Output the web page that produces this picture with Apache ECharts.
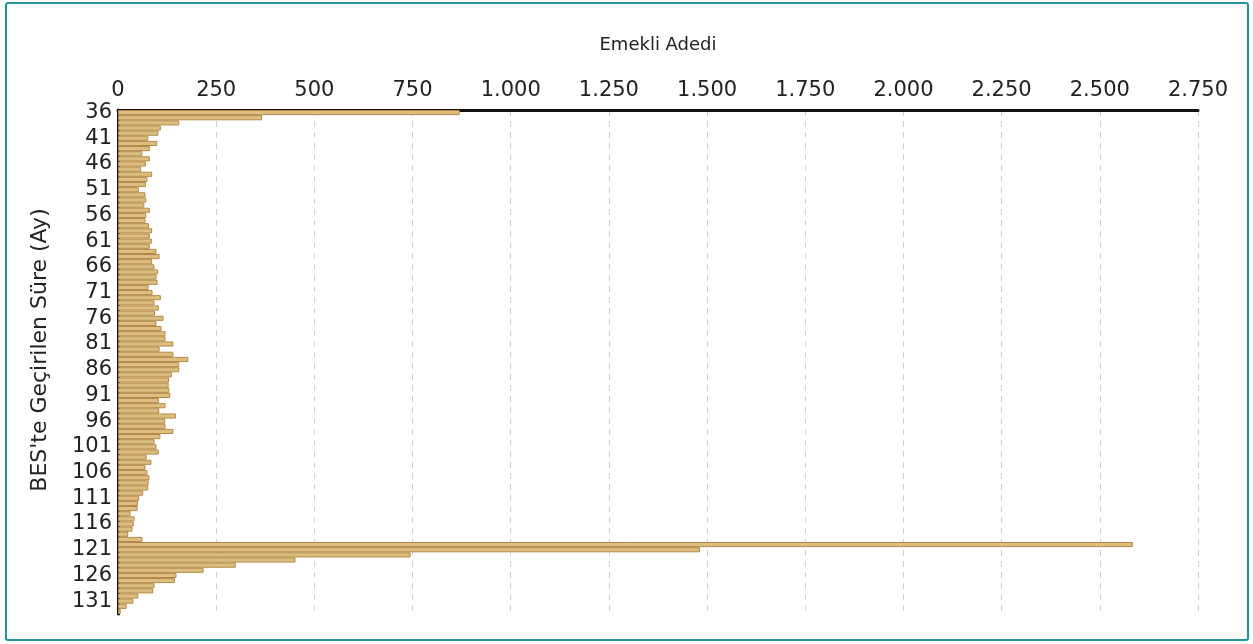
<!DOCTYPE html>
<html>
<head>
<meta charset="utf-8">
<script src="https://cdn.jsdelivr.net/npm/echarts@6/dist/echarts.min.js"></script>
<style>
html,body{margin:0;padding:0;background:#fff;}
#chart{width:1253px;height:644px;}
</style>
</head>
<body>
<div id="chart"></div>
<script>
// Categories: months spent in BES (36..133)
const months = [];
for (let m = 36; m <= 133; m++) months.push(String(m));

// Number of retirees per month
const retirees = [
  870, 367, 156, 109, 103, 77, 100, 81, 62, 81,
  71, 59, 87, 75, 71, 53, 70, 72, 67, 81,
  72, 70, 79, 87, 81, 86, 81, 98, 106, 87,
  93, 102, 98, 101, 78, 88, 109, 93, 104, 94,
  116, 98, 111, 121, 121, 141, 106, 141, 179, 156,
  156, 137, 130, 129, 131, 133, 104, 121, 105, 148,
  120, 121, 141, 108, 93, 98, 104, 73, 85, 70,
  75, 80, 78, 77, 64, 54, 51, 50, 32, 42,
  40, 37, 26, 62, 2584, 1482, 745, 452, 300, 218,
  149, 145, 93, 90, 52, 39, 22, 7
];

const xTitle = 'Emekli Adedi';
const yTitle = "BES'te Geçirilen Süre (Ay)";

function fmt(v) {
  const s = String(Math.round(v));
  return s.replace(/\B(?=(\d{3})+(?!\d))/g, '.');
}

const FONT = 'DejaVu Sans';
const chart = echarts.init(document.getElementById('chart'));
chart.setOption({
  animation: false,
  backgroundColor: '#ffffff',
  grid: { left: 118, right: 55, top: 110, bottom: 30 },
  graphic: [{
    type: 'rect',
    shape: { x: 6, y: 3, width: 1242, height: 637, r: 2 },
    style: { fill: 'none', stroke: '#25919b', lineWidth: 2 },
    silent: true
  }],
  xAxis: {
    type: 'value',
    position: 'top',
    min: 0, max: 2750, interval: 250,
    name: xTitle,
    nameLocation: 'middle',
    nameGap: 56,
    nameTextStyle: { fontFamily: FONT, fontSize: 18, color: '#222' },
    axisLine: { show: true, lineStyle: { color: '#111', width: 3 } },
    axisTick: { show: false },
    axisLabel: { fontFamily: FONT, fontSize: 21, color: '#222', margin: 9, formatter: fmt },
    splitLine: { show: true, lineStyle: { color: '#cfcfcf', width: 1, type: [6, 5] } }
  },
  yAxis: {
    type: 'category',
    inverse: true,
    data: months,
    name: yTitle,
    nameLocation: 'middle',
    nameGap: 67,
    nameRotate: 90,
    nameTextStyle: { fontFamily: FONT, fontSize: 22, color: '#222', padding: [0, 0, 0, 24] },
    axisLine: { show: true, lineStyle: { color: '#111', width: 3 } },
    axisTick: { show: false },
    axisLabel: { interval: 4, fontFamily: FONT, fontSize: 21, color: '#222', margin: 6 },
    splitLine: { show: false }
  },
  series: [{
    type: 'bar',
    data: retirees,
    barCategoryGap: '0%',
    itemStyle: { color: '#dbbf7e', borderColor: '#b5874c', borderWidth: 1 }
  }]
});
</script>
</body>
</html>
